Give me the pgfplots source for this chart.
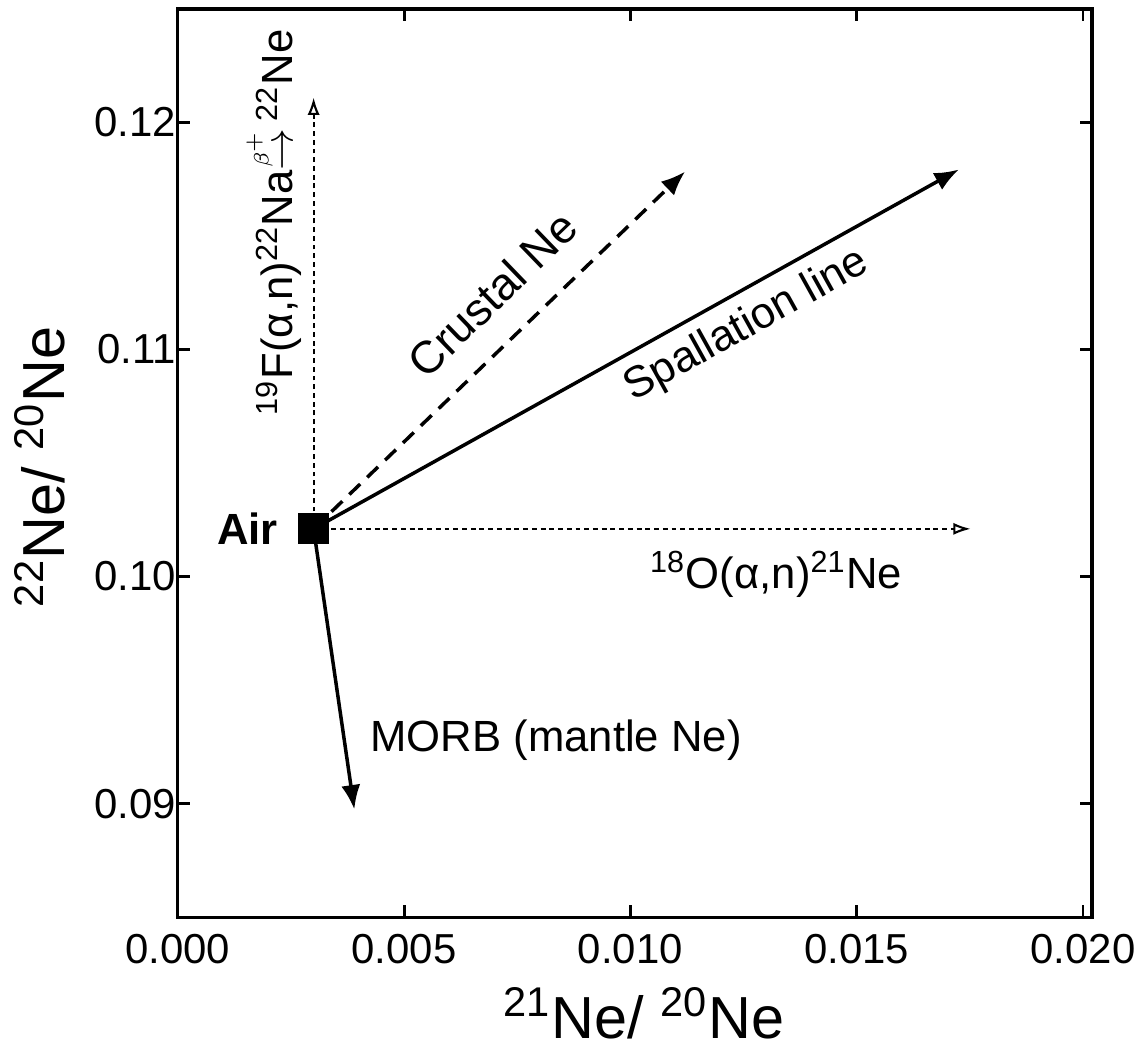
\documentclass[border=0pt]{standalone}
\usepackage{amsmath}
\usepackage{fontspec}
\setmainfont{Liberation Sans}
\usepackage{pgfplots}
\pgfplotsset{compat=1.18}
\usetikzlibrary{calc,arrows.meta}

\begin{document}
\begin{tikzpicture}
\begin{axis}[
  scale only axis,
  width=9.2cm, height=9.14cm,
  xmin=0, xmax=0.0202,
  ymin=0.085, ymax=0.125,
  xtick={0,0.005,0.010,0.015,0.020},
  ytick={0.09,0.10,0.11,0.12},
  scaled ticks=false,
  xticklabel style={/pgf/number format/fixed, /pgf/number format/fixed zerofill, /pgf/number format/precision=3, /pgf/number format/assume math mode=true, yshift=-1.5pt},
  yticklabel style={/pgf/number format/fixed, /pgf/number format/fixed zerofill, /pgf/number format/precision=2, /pgf/number format/assume math mode=true, xshift=3pt},
  tick label style={font=\fontsize{12}{14}\selectfont},
  tick align=inside,
  major tick length=0.12cm,
  minor tick num=0,
  axis line style={line width=0.9pt},
  every tick/.style={line width=0.8pt, black},
  clip=false,
  every axis x label/.style={at={(axis description cs:0.51,-0.106)}, anchor=center},
  every axis y label/.style={at={(axis description cs:-0.151,0.496)}, rotate=90, anchor=center},
  xlabel={\fontsize{17}{20}\selectfont\textsuperscript{21}Ne/ \textsuperscript{20}Ne},
  ylabel={\fontsize{17}{20}\selectfont\textsuperscript{22}Ne/ \textsuperscript{20}Ne},
]
% vertical: 19F(a,n)22Na -> 22Ne
\addplot[line width=0.6pt, dash pattern=on 1.4pt off 1.1pt, -{Latex[open,length=5pt,width=3.5pt]}]
  coordinates {(0.0030,0.1021) (0.0030,0.1211)};
% horizontal: 18O(a,n)21Ne
\addplot[line width=0.6pt, dash pattern=on 1.4pt off 1.1pt, -{Latex[open,length=5pt,width=3.5pt]}]
  coordinates {(0.0030,0.1021) (0.01752,0.1021)};
% crustal Ne
\addplot[line width=1pt, dash pattern=on 4.3pt off 2.8pt, -{Latex[length=7pt,width=5.5pt]}]
  coordinates {(0.0030,0.1021) (0.01121,0.11784)};
% spallation line
\addplot[line width=1pt, -{Latex[length=7pt,width=5.5pt]}]
  coordinates {(0.0030,0.1021) (0.01726,0.11793)};
% MORB
\addplot[line width=1pt, -{Latex[length=7pt,width=5.5pt]}]
  coordinates {(0.0030,0.1021) (0.0039,0.08974)};
% air
\addplot[only marks, mark=square*, mark size=4.2pt, black] coordinates {(0.0030,0.1021)};

\node[anchor=east, font=\fontsize{12.5}{14}\selectfont\bfseries] at (axis cs:0.00248,0.1021) {Air};
\node[rotate=44, font=\fontsize{13}{15}\selectfont] at (axis cs:0.00695,0.11245) {Crustal Ne};
\node[rotate=29, font=\fontsize{12.5}{14}\selectfont] at (axis cs:0.01257,0.11103) {Spallation line};
\node[font=\fontsize{12.5}{14}\selectfont] at (axis cs:0.01322,0.1001) {\textsuperscript{18}O(α,n)\textsuperscript{21}Ne};
\node[font=\fontsize{12.5}{14}\selectfont] at (axis cs:0.00836,0.09278) {MORB (mantle Ne)};
\node[rotate=90, font=\fontsize{12.5}{14}\selectfont] at (axis cs:0.00208,0.1156)
  {\textsuperscript{19}F(α,n)\textsuperscript{22}Na$\overset{\scriptscriptstyle\beta^{+}}{\rightarrow}$\,\textsuperscript{22}Ne};
\end{axis}
\path ($(current axis.south west)+(-1.79cm,-1.27cm)$) rectangle ($(current axis.north east)+(0.48cm,0.09cm)$);
\end{tikzpicture}
\end{document}
